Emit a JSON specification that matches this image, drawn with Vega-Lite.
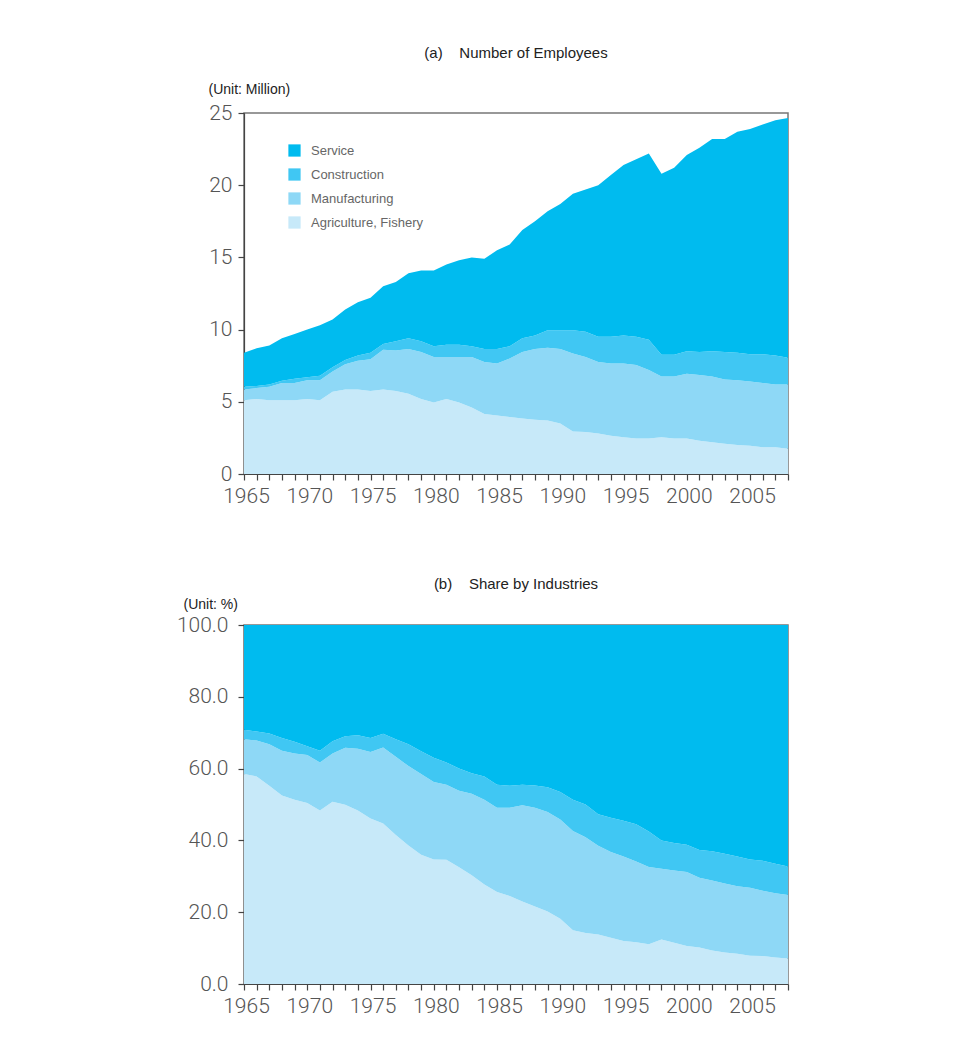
{
  "$schema": "https://vega.github.io/schema/vega-lite/v6.json",
  "background": "white",
  "padding": {"left": 175, "top": 45, "right": 10, "bottom": 10},
  "spacing": 69,
  "config": {
    "view": {"stroke": "#777", "strokeWidth": 1.5},
    "axis": {
      "labelFont": "Roboto", "labelFontWeight": 300, "labelFontSize": 21, "labelColor": "#555",
      "domainColor": "#444", "domainWidth": 1.2, "tickColor": "#444", "tickWidth": 1.2, "grid": false, "tickSize": 6, "ticks": true
    },
    "title": {"font": "Liberation Sans Narrow, Liberation Sans", "fontSize": 15, "fontWeight": "normal", "color": "#222"}
  },
  "datasets": {
    "emp": [
      {"year":1965,"industry":"Agriculture, Fishery","value":5.1},{"year":1965,"industry":"Manufacturing","value":0.75},{"year":1965,"industry":"Construction","value":0.2},{"year":1965,"industry":"Service","value":2.35},
      {"year":1966,"industry":"Agriculture, Fishery","value":5.2},{"year":1966,"industry":"Manufacturing","value":0.75},{"year":1966,"industry":"Construction","value":0.15},{"year":1966,"industry":"Service","value":2.6},
      {"year":1967,"industry":"Agriculture, Fishery","value":5.1},{"year":1967,"industry":"Manufacturing","value":0.95},{"year":1967,"industry":"Construction","value":0.15},{"year":1967,"industry":"Service","value":2.7},
      {"year":1968,"industry":"Agriculture, Fishery","value":5.1},{"year":1968,"industry":"Manufacturing","value":1.2},{"year":1968,"industry":"Construction","value":0.15},{"year":1968,"industry":"Service","value":2.95},
      {"year":1969,"industry":"Agriculture, Fishery","value":5.1},{"year":1969,"industry":"Manufacturing","value":1.2},{"year":1969,"industry":"Construction","value":0.3},{"year":1969,"industry":"Service","value":3.1},
      {"year":1970,"industry":"Agriculture, Fishery","value":5.2},{"year":1970,"industry":"Manufacturing","value":1.3},{"year":1970,"industry":"Construction","value":0.2},{"year":1970,"industry":"Service","value":3.3},
      {"year":1971,"industry":"Agriculture, Fishery","value":5.1},{"year":1971,"industry":"Manufacturing","value":1.4},{"year":1971,"industry":"Construction","value":0.3},{"year":1971,"industry":"Service","value":3.5},
      {"year":1972,"industry":"Agriculture, Fishery","value":5.7},{"year":1972,"industry":"Manufacturing","value":1.4},{"year":1972,"industry":"Construction","value":0.3},{"year":1972,"industry":"Service","value":3.3},
      {"year":1973,"industry":"Agriculture, Fishery","value":5.85},{"year":1973,"industry":"Manufacturing","value":1.75},{"year":1973,"industry":"Construction","value":0.3},{"year":1973,"industry":"Service","value":3.5},
      {"year":1974,"industry":"Agriculture, Fishery","value":5.85},{"year":1974,"industry":"Manufacturing","value":2.0},{"year":1974,"industry":"Construction","value":0.35},{"year":1974,"industry":"Service","value":3.7},
      {"year":1975,"industry":"Agriculture, Fishery","value":5.75},{"year":1975,"industry":"Manufacturing","value":2.2},{"year":1975,"industry":"Construction","value":0.45},{"year":1975,"industry":"Service","value":3.8},
      {"year":1976,"industry":"Agriculture, Fishery","value":5.85},{"year":1976,"industry":"Manufacturing","value":2.75},{"year":1976,"industry":"Construction","value":0.4},{"year":1976,"industry":"Service","value":4.0},
      {"year":1977,"industry":"Agriculture, Fishery","value":5.75},{"year":1977,"industry":"Manufacturing","value":2.8},{"year":1977,"industry":"Construction","value":0.65},{"year":1977,"industry":"Service","value":4.1},
      {"year":1978,"industry":"Agriculture, Fishery","value":5.55},{"year":1978,"industry":"Manufacturing","value":3.1},{"year":1978,"industry":"Construction","value":0.75},{"year":1978,"industry":"Service","value":4.5},
      {"year":1979,"industry":"Agriculture, Fishery","value":5.2},{"year":1979,"industry":"Manufacturing","value":3.25},{"year":1979,"industry":"Construction","value":0.75},{"year":1979,"industry":"Service","value":4.9},
      {"year":1980,"industry":"Agriculture, Fishery","value":4.95},{"year":1980,"industry":"Manufacturing","value":3.15},{"year":1980,"industry":"Construction","value":0.75},{"year":1980,"industry":"Service","value":5.25},
      {"year":1981,"industry":"Agriculture, Fishery","value":5.2},{"year":1981,"industry":"Manufacturing","value":2.9},{"year":1981,"industry":"Construction","value":0.85},{"year":1981,"industry":"Service","value":5.55},
      {"year":1982,"industry":"Agriculture, Fishery","value":4.95},{"year":1982,"industry":"Manufacturing","value":3.15},{"year":1982,"industry":"Construction","value":0.85},{"year":1982,"industry":"Service","value":5.85},
      {"year":1983,"industry":"Agriculture, Fishery","value":4.6},{"year":1983,"industry":"Manufacturing","value":3.5},{"year":1983,"industry":"Construction","value":0.75},{"year":1983,"industry":"Service","value":6.15},
      {"year":1984,"industry":"Agriculture, Fishery","value":4.15},{"year":1984,"industry":"Manufacturing","value":3.6},{"year":1984,"industry":"Construction","value":0.9},{"year":1984,"industry":"Service","value":6.25},
      {"year":1985,"industry":"Agriculture, Fishery","value":4.05},{"year":1985,"industry":"Manufacturing","value":3.6},{"year":1985,"industry":"Construction","value":1.0},{"year":1985,"industry":"Service","value":6.85},
      {"year":1986,"industry":"Agriculture, Fishery","value":3.95},{"year":1986,"industry":"Manufacturing","value":4.05},{"year":1986,"industry":"Construction","value":0.85},{"year":1986,"industry":"Service","value":7.05},
      {"year":1987,"industry":"Agriculture, Fishery","value":3.85},{"year":1987,"industry":"Manufacturing","value":4.6},{"year":1987,"industry":"Construction","value":0.95},{"year":1987,"industry":"Service","value":7.5},
      {"year":1988,"industry":"Agriculture, Fishery","value":3.75},{"year":1988,"industry":"Manufacturing","value":4.9},{"year":1988,"industry":"Construction","value":0.95},{"year":1988,"industry":"Service","value":7.9},
      {"year":1989,"industry":"Agriculture, Fishery","value":3.7},{"year":1989,"industry":"Manufacturing","value":5.05},{"year":1989,"industry":"Construction","value":1.2},{"year":1989,"industry":"Service","value":8.25},
      {"year":1990,"industry":"Agriculture, Fishery","value":3.5},{"year":1990,"industry":"Manufacturing","value":5.15},{"year":1990,"industry":"Construction","value":1.3},{"year":1990,"industry":"Service","value":8.75},
      {"year":1991,"industry":"Agriculture, Fishery","value":2.95},{"year":1991,"industry":"Manufacturing","value":5.4},{"year":1991,"industry":"Construction","value":1.6},{"year":1991,"industry":"Service","value":9.45},
      {"year":1992,"industry":"Agriculture, Fishery","value":2.9},{"year":1992,"industry":"Manufacturing","value":5.2},{"year":1992,"industry":"Construction","value":1.75},{"year":1992,"industry":"Service","value":9.85},
      {"year":1993,"industry":"Agriculture, Fishery","value":2.8},{"year":1993,"industry":"Manufacturing","value":4.95},{"year":1993,"industry":"Construction","value":1.75},{"year":1993,"industry":"Service","value":10.5},
      {"year":1994,"industry":"Agriculture, Fishery","value":2.65},{"year":1994,"industry":"Manufacturing","value":5.0},{"year":1994,"industry":"Construction","value":1.85},{"year":1994,"industry":"Service","value":11.2},
      {"year":1995,"industry":"Agriculture, Fishery","value":2.55},{"year":1995,"industry":"Manufacturing","value":5.1},{"year":1995,"industry":"Construction","value":1.95},{"year":1995,"industry":"Service","value":11.8},
      {"year":1996,"industry":"Agriculture, Fishery","value":2.45},{"year":1996,"industry":"Manufacturing","value":5.1},{"year":1996,"industry":"Construction","value":1.95},{"year":1996,"industry":"Service","value":12.3},
      {"year":1997,"industry":"Agriculture, Fishery","value":2.45},{"year":1997,"industry":"Manufacturing","value":4.75},{"year":1997,"industry":"Construction","value":2.1},{"year":1997,"industry":"Service","value":12.9},
      {"year":1998,"industry":"Agriculture, Fishery","value":2.55},{"year":1998,"industry":"Manufacturing","value":4.2},{"year":1998,"industry":"Construction","value":1.5},{"year":1998,"industry":"Service","value":12.55},
      {"year":1999,"industry":"Agriculture, Fishery","value":2.45},{"year":1999,"industry":"Manufacturing","value":4.3},{"year":1999,"industry":"Construction","value":1.5},{"year":1999,"industry":"Service","value":12.95},
      {"year":2000,"industry":"Agriculture, Fishery","value":2.45},{"year":2000,"industry":"Manufacturing","value":4.5},{"year":2000,"industry":"Construction","value":1.55},{"year":2000,"industry":"Service","value":13.6},
      {"year":2001,"industry":"Agriculture, Fishery","value":2.3},{"year":2001,"industry":"Manufacturing","value":4.55},{"year":2001,"industry":"Construction","value":1.6},{"year":2001,"industry":"Service","value":14.15},
      {"year":2002,"industry":"Agriculture, Fishery","value":2.2},{"year":2002,"industry":"Manufacturing","value":4.55},{"year":2002,"industry":"Construction","value":1.75},{"year":2002,"industry":"Service","value":14.7},
      {"year":2003,"industry":"Agriculture, Fishery","value":2.1},{"year":2003,"industry":"Manufacturing","value":4.45},{"year":2003,"industry":"Construction","value":1.9},{"year":2003,"industry":"Service","value":14.75},
      {"year":2004,"industry":"Agriculture, Fishery","value":2.0},{"year":2004,"industry":"Manufacturing","value":4.5},{"year":2004,"industry":"Construction","value":1.9},{"year":2004,"industry":"Service","value":15.3},
      {"year":2005,"industry":"Agriculture, Fishery","value":1.95},{"year":2005,"industry":"Manufacturing","value":4.45},{"year":2005,"industry":"Construction","value":1.9},{"year":2005,"industry":"Service","value":15.6},
      {"year":2006,"industry":"Agriculture, Fishery","value":1.85},{"year":2006,"industry":"Manufacturing","value":4.45},{"year":2006,"industry":"Construction","value":2.0},{"year":2006,"industry":"Service","value":15.9},
      {"year":2007,"industry":"Agriculture, Fishery","value":1.85},{"year":2007,"industry":"Manufacturing","value":4.35},{"year":2007,"industry":"Construction","value":2.0},{"year":2007,"industry":"Service","value":16.3},
      {"year":2008,"industry":"Agriculture, Fishery","value":1.75},{"year":2008,"industry":"Manufacturing","value":4.45},{"year":2008,"industry":"Construction","value":1.85},{"year":2008,"industry":"Service","value":16.6}
    ],
    "share": [
      {"year":1965,"industry":"Agriculture, Fishery","value":58.5},{"year":1965,"industry":"Manufacturing","value":9.7},{"year":1965,"industry":"Construction","value":2.6},{"year":1965,"industry":"Service","value":29.2},
      {"year":1966,"industry":"Agriculture, Fishery","value":57.8},{"year":1966,"industry":"Manufacturing","value":10.0},{"year":1966,"industry":"Construction","value":2.5},{"year":1966,"industry":"Service","value":29.7},
      {"year":1967,"industry":"Agriculture, Fishery","value":55.2},{"year":1967,"industry":"Manufacturing","value":11.6},{"year":1967,"industry":"Construction","value":3.0},{"year":1967,"industry":"Service","value":30.2},
      {"year":1968,"industry":"Agriculture, Fishery","value":52.5},{"year":1968,"industry":"Manufacturing","value":12.5},{"year":1968,"industry":"Construction","value":3.5},{"year":1968,"industry":"Service","value":31.5},
      {"year":1969,"industry":"Agriculture, Fishery","value":51.3},{"year":1969,"industry":"Manufacturing","value":12.9},{"year":1969,"industry":"Construction","value":3.3},{"year":1969,"industry":"Service","value":32.5},
      {"year":1970,"industry":"Agriculture, Fishery","value":50.4},{"year":1970,"industry":"Manufacturing","value":13.4},{"year":1970,"industry":"Construction","value":2.4},{"year":1970,"industry":"Service","value":33.8},
      {"year":1971,"industry":"Agriculture, Fishery","value":48.3},{"year":1971,"industry":"Manufacturing","value":13.4},{"year":1971,"industry":"Construction","value":3.3},{"year":1971,"industry":"Service","value":35.0},
      {"year":1972,"industry":"Agriculture, Fishery","value":50.8},{"year":1972,"industry":"Manufacturing","value":13.4},{"year":1972,"industry":"Construction","value":3.4},{"year":1972,"industry":"Service","value":32.4},
      {"year":1973,"industry":"Agriculture, Fishery","value":49.9},{"year":1973,"industry":"Manufacturing","value":15.9},{"year":1973,"industry":"Construction","value":3.2},{"year":1973,"industry":"Service","value":31.0},
      {"year":1974,"industry":"Agriculture, Fishery","value":48.3},{"year":1974,"industry":"Manufacturing","value":17.2},{"year":1974,"industry":"Construction","value":3.8},{"year":1974,"industry":"Service","value":30.7},
      {"year":1975,"industry":"Agriculture, Fishery","value":46.1},{"year":1975,"industry":"Manufacturing","value":18.5},{"year":1975,"industry":"Construction","value":3.9},{"year":1975,"industry":"Service","value":31.5},
      {"year":1976,"industry":"Agriculture, Fishery","value":44.7},{"year":1976,"industry":"Manufacturing","value":21.2},{"year":1976,"industry":"Construction","value":3.8},{"year":1976,"industry":"Service","value":30.3},
      {"year":1977,"industry":"Agriculture, Fishery","value":41.5},{"year":1977,"industry":"Manufacturing","value":21.8},{"year":1977,"industry":"Construction","value":4.9},{"year":1977,"industry":"Service","value":31.8},
      {"year":1978,"industry":"Agriculture, Fishery","value":38.6},{"year":1978,"industry":"Manufacturing","value":22.1},{"year":1978,"industry":"Construction","value":6.1},{"year":1978,"industry":"Service","value":33.2},
      {"year":1979,"industry":"Agriculture, Fishery","value":36.0},{"year":1979,"industry":"Manufacturing","value":22.5},{"year":1979,"industry":"Construction","value":6.3},{"year":1979,"industry":"Service","value":35.2},
      {"year":1980,"industry":"Agriculture, Fishery","value":34.7},{"year":1980,"industry":"Manufacturing","value":21.6},{"year":1980,"industry":"Construction","value":6.7},{"year":1980,"industry":"Service","value":37.0},
      {"year":1981,"industry":"Agriculture, Fishery","value":34.6},{"year":1981,"industry":"Manufacturing","value":20.9},{"year":1981,"industry":"Construction","value":6.2},{"year":1981,"industry":"Service","value":38.3},
      {"year":1982,"industry":"Agriculture, Fishery","value":32.5},{"year":1982,"industry":"Manufacturing","value":21.3},{"year":1982,"industry":"Construction","value":6.2},{"year":1982,"industry":"Service","value":40.0},
      {"year":1983,"industry":"Agriculture, Fishery","value":30.3},{"year":1983,"industry":"Manufacturing","value":22.7},{"year":1983,"industry":"Construction","value":5.7},{"year":1983,"industry":"Service","value":41.3},
      {"year":1984,"industry":"Agriculture, Fishery","value":27.7},{"year":1984,"industry":"Manufacturing","value":23.6},{"year":1984,"industry":"Construction","value":6.5},{"year":1984,"industry":"Service","value":42.2},
      {"year":1985,"industry":"Agriculture, Fishery","value":25.6},{"year":1985,"industry":"Manufacturing","value":23.5},{"year":1985,"industry":"Construction","value":6.4},{"year":1985,"industry":"Service","value":44.5},
      {"year":1986,"industry":"Agriculture, Fishery","value":24.5},{"year":1986,"industry":"Manufacturing","value":24.6},{"year":1986,"industry":"Construction","value":6.1},{"year":1986,"industry":"Service","value":44.8},
      {"year":1987,"industry":"Agriculture, Fishery","value":23.0},{"year":1987,"industry":"Manufacturing","value":26.8},{"year":1987,"industry":"Construction","value":5.7},{"year":1987,"industry":"Service","value":44.5},
      {"year":1988,"industry":"Agriculture, Fishery","value":21.6},{"year":1988,"industry":"Manufacturing","value":27.5},{"year":1988,"industry":"Construction","value":6.2},{"year":1988,"industry":"Service","value":44.7},
      {"year":1989,"industry":"Agriculture, Fishery","value":20.2},{"year":1989,"industry":"Manufacturing","value":27.7},{"year":1989,"industry":"Construction","value":6.9},{"year":1989,"industry":"Service","value":45.2},
      {"year":1990,"industry":"Agriculture, Fishery","value":18.2},{"year":1990,"industry":"Manufacturing","value":27.6},{"year":1990,"industry":"Construction","value":7.7},{"year":1990,"industry":"Service","value":46.5},
      {"year":1991,"industry":"Agriculture, Fishery","value":15.0},{"year":1991,"industry":"Manufacturing","value":27.6},{"year":1991,"industry":"Construction","value":8.7},{"year":1991,"industry":"Service","value":48.7},
      {"year":1992,"industry":"Agriculture, Fishery","value":14.2},{"year":1992,"industry":"Manufacturing","value":26.7},{"year":1992,"industry":"Construction","value":9.1},{"year":1992,"industry":"Service","value":50.0},
      {"year":1993,"industry":"Agriculture, Fishery","value":13.8},{"year":1993,"industry":"Manufacturing","value":24.7},{"year":1993,"industry":"Construction","value":8.8},{"year":1993,"industry":"Service","value":52.7},
      {"year":1994,"industry":"Agriculture, Fishery","value":12.9},{"year":1994,"industry":"Manufacturing","value":23.9},{"year":1994,"industry":"Construction","value":9.5},{"year":1994,"industry":"Service","value":53.7},
      {"year":1995,"industry":"Agriculture, Fishery","value":12.0},{"year":1995,"industry":"Manufacturing","value":23.5},{"year":1995,"industry":"Construction","value":10.0},{"year":1995,"industry":"Service","value":54.5},
      {"year":1996,"industry":"Agriculture, Fishery","value":11.6},{"year":1996,"industry":"Manufacturing","value":22.5},{"year":1996,"industry":"Construction","value":10.4},{"year":1996,"industry":"Service","value":55.5},
      {"year":1997,"industry":"Agriculture, Fishery","value":11.1},{"year":1997,"industry":"Manufacturing","value":21.5},{"year":1997,"industry":"Construction","value":9.9},{"year":1997,"industry":"Service","value":57.5},
      {"year":1998,"industry":"Agriculture, Fishery","value":12.4},{"year":1998,"industry":"Manufacturing","value":19.7},{"year":1998,"industry":"Construction","value":7.9},{"year":1998,"industry":"Service","value":60.0},
      {"year":1999,"industry":"Agriculture, Fishery","value":11.5},{"year":1999,"industry":"Manufacturing","value":20.1},{"year":1999,"industry":"Construction","value":7.7},{"year":1999,"industry":"Service","value":60.7},
      {"year":2000,"industry":"Agriculture, Fishery","value":10.6},{"year":2000,"industry":"Manufacturing","value":20.6},{"year":2000,"industry":"Construction","value":7.6},{"year":2000,"industry":"Service","value":61.2},
      {"year":2001,"industry":"Agriculture, Fishery","value":10.2},{"year":2001,"industry":"Manufacturing","value":19.4},{"year":2001,"industry":"Construction","value":7.7},{"year":2001,"industry":"Service","value":62.7},
      {"year":2002,"industry":"Agriculture, Fishery","value":9.3},{"year":2002,"industry":"Manufacturing","value":19.5},{"year":2002,"industry":"Construction","value":8.2},{"year":2002,"industry":"Service","value":63.0},
      {"year":2003,"industry":"Agriculture, Fishery","value":8.8},{"year":2003,"industry":"Manufacturing","value":19.2},{"year":2003,"industry":"Construction","value":8.3},{"year":2003,"industry":"Service","value":63.7},
      {"year":2004,"industry":"Agriculture, Fishery","value":8.4},{"year":2004,"industry":"Manufacturing","value":18.8},{"year":2004,"industry":"Construction","value":8.3},{"year":2004,"industry":"Service","value":64.5},
      {"year":2005,"industry":"Agriculture, Fishery","value":7.9},{"year":2005,"industry":"Manufacturing","value":18.9},{"year":2005,"industry":"Construction","value":7.9},{"year":2005,"industry":"Service","value":65.3},
      {"year":2006,"industry":"Agriculture, Fishery","value":7.8},{"year":2006,"industry":"Manufacturing","value":18.2},{"year":2006,"industry":"Construction","value":8.3},{"year":2006,"industry":"Service","value":65.7},
      {"year":2007,"industry":"Agriculture, Fishery","value":7.4},{"year":2007,"industry":"Manufacturing","value":17.9},{"year":2007,"industry":"Construction","value":8.2},{"year":2007,"industry":"Service","value":66.5},
      {"year":2008,"industry":"Agriculture, Fishery","value":7.1},{"year":2008,"industry":"Manufacturing","value":17.7},{"year":2008,"industry":"Construction","value":7.9},{"year":2008,"industry":"Service","value":67.3}
    ]
  },
  "vconcat": [
    {
      "width": 544, "height": 361,
      "title": {"text": "(a)\u00a0\u00a0\u00a0\u00a0Number of Employees", "anchor": "middle", "offset": 21},
      "data": {"name": "emp"},
      "transform": [{"calculate": "indexof(['Agriculture, Fishery','Manufacturing','Construction','Service'], datum.industry)", "as": "stackOrder"}],
      "mark": {"type": "area", "interpolate": "linear"},
      "encoding": {
        "x": {"field": "year", "type": "quantitative", "scale": {"domain": [1965, 2008], "nice": false, "zero": false},
          "axis": {"title": null, "values": [1965,1966,1967,1968,1969,1970,1971,1972,1973,1974,1975,1976,1977,1978,1979,1980,1981,1982,1983,1984,1985,1986,1987,1988,1989,1990,1991,1992,1993,1994,1995,1996,1997,1998,1999,2000,2001,2002,2003,2004,2005,2006,2007,2008],
            "labelExpr": "datum.value % 5 == 0 ? datum.value : ''", "labelOffset": 2, "labelPadding": 5, "labelFlush": false, "labelOverlap": false}},
        "y": {"field": "value", "type": "quantitative", "stack": "zero", "scale": {"domain": [0, 25], "nice": false},
          "axis": {"values": [0,5,10,15,20,25], "title": "(Unit: Million)", "titleAngle": 0, "titleAlign": "left", "titleBaseline": "middle", "titleX": -36, "titleY": -24,
            "titleFont": "Liberation Sans Narrow, Liberation Sans", "titleFontSize": 14, "titleFontWeight": "normal", "titleColor": "#222", "labelPadding": 6}},
        "color": {"field": "industry", "type": "nominal",
          "scale": {"domain": ["Service","Construction","Manufacturing","Agriculture, Fishery"], "range": ["#00BBEF","#40C7F3","#8ED8F6","#C7E9F9"]},
          "legend": {"title": null, "orient": "none", "legendX": 44, "legendY": 31, "symbolType": "square", "symbolSize": 150, "symbolStrokeWidth": 0,
            "labelFont": "Liberation Sans Narrow, Liberation Sans", "labelFontSize": 13, "labelColor": "#666", "labelOffset": 10, "rowPadding": 10}},
        "order": {"field": "stackOrder", "type": "quantitative"}
      }
    },
    {
      "width": 544, "height": 359,
      "title": {"text": "(b)\u00a0\u00a0\u00a0\u00a0Share by Industries", "anchor": "middle", "offset": 5},
      "data": {"name": "share"},
      "transform": [{"calculate": "indexof(['Agriculture, Fishery','Manufacturing','Construction','Service'], datum.industry)", "as": "stackOrder"}],
      "mark": {"type": "area", "interpolate": "linear"},
      "encoding": {
        "x": {"field": "year", "type": "quantitative", "scale": {"domain": [1965, 2008], "nice": false, "zero": false},
          "axis": {"title": null, "values": [1965,1966,1967,1968,1969,1970,1971,1972,1973,1974,1975,1976,1977,1978,1979,1980,1981,1982,1983,1984,1985,1986,1987,1988,1989,1990,1991,1992,1993,1994,1995,1996,1997,1998,1999,2000,2001,2002,2003,2004,2005,2006,2007,2008],
            "labelExpr": "datum.value % 5 == 0 ? datum.value : ''", "labelOffset": 2, "labelPadding": 5, "labelFlush": false, "labelOverlap": false}},
        "y": {"field": "value", "type": "quantitative", "stack": "zero", "scale": {"domain": [0, 100], "nice": false},
          "axis": {"values": [0,20,40,60,80,100], "format": ".1f", "title": "(Unit: %)", "titleAngle": 0, "titleAlign": "left", "titleBaseline": "middle", "titleX": -61, "titleY": -21,
            "titleFont": "Liberation Sans Narrow, Liberation Sans", "titleFontSize": 14, "titleFontWeight": "normal", "titleColor": "#222", "labelPadding": 10}},
        "color": {"field": "industry", "type": "nominal",
          "scale": {"domain": ["Service","Construction","Manufacturing","Agriculture, Fishery"], "range": ["#00BBEF","#40C7F3","#8ED8F6","#C7E9F9"]},
          "legend": null},
        "order": {"field": "stackOrder", "type": "quantitative"}
      }
    }
  ]
}
